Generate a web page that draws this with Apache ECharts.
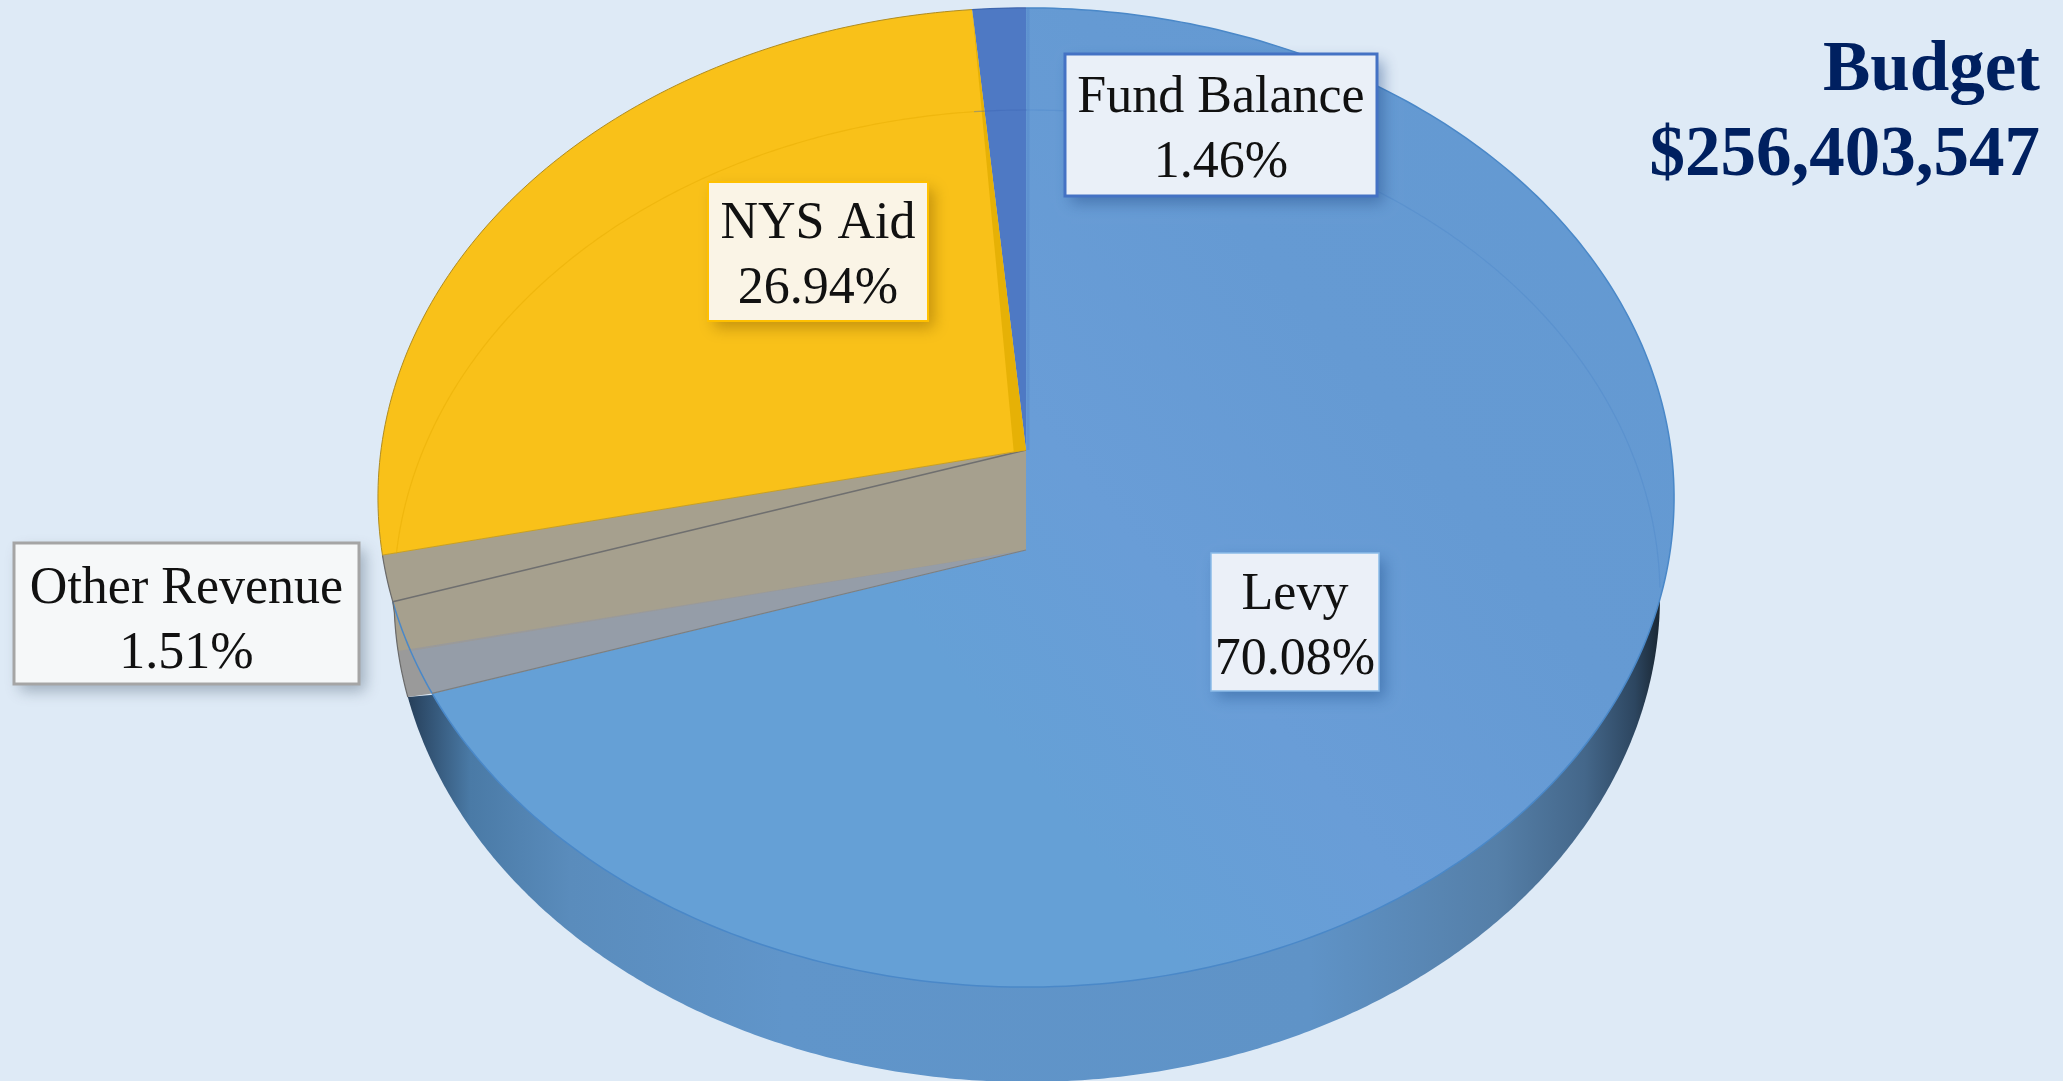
<!DOCTYPE html>
<html>
<head>
<meta charset="utf-8">
<style>html,body{margin:0;padding:0;background:#DEEAF6;overflow:hidden}#c{width:2063px;height:1081px}</style>
<script src="https://cdn.jsdelivr.net/npm/echarts@6/dist/echarts.min.js"></script>
</head>
<body>
<div id="c"></div>
<script>
// ---- data ----
const categories = ['Levy', 'Other Revenue', 'NYS Aid', 'Fund Balance'];
const shares = [70.08, 1.51, 26.94, 1.46];
const titleLines = ['Budget', '$256,403,547'];

// ---- styles / layout (not data) ----
const sliceColors = ['#659FD6', '#A6A08E', '#F9C119', '#4E79C4'];
const labelBoxes = [
  {x0: 1211, y0: 553, x1: 1379, y1: 691, dy: 6, border: '#8ABBE8', lw: 1.5, fill: '#EBF0F8', shadow: 'rgba(30,80,140,0.45)'},
  {x0: 14,   y0: 543, x1: 359,  y1: 684, dy: 8, border: '#A5A5A5', lw: 3,   fill: '#F6F8F9', shadow: 'rgba(60,80,100,0.40)'},
  {x0: 708,  y0: 182, x1: 928,  y1: 321, dy: 5, border: '#FFC000', lw: 2,   fill: '#FAF4E6', shadow: 'rgba(130,90,0,0.45)'},
  {x0: 1065, y0: 54,  x1: 1377, y1: 196, dy: 6, border: '#4472C4', lw: 3,   fill: '#EAF0F8', shadow: 'rgba(30,70,130,0.45)'}
];
const LABEL_FONT = '52px "Liberation Serif", serif';
// perspective disc: apex is the projected centre of the pie
const D = {cx: 1026, ay: 450, A: 645, B: 485, k: 0.097};
// bottom rim ellipse
const R = {cx: 1027, cy: 596, a: 633, b: 486};
const DROP = 100;           // how far the Levy cut face drops below the apex
const LEVY_CUT = 3.03;      // pct before Levy's end where the visible top stops
const TAN_CUT = 1.61;       // pct before Levy's end where the tan band stops

const total = shares.reduce((a, b) => a + b, 0);
const cum = [];
shares.reduce((a, b, i) => { cum[i] = a; return a + b; }, 0);

function disc(pct) {
  const t = pct / 100 * 2 * Math.PI, u = Math.sin(t), v = Math.cos(t), d = 1 + D.k * v;
  return [D.cx + D.A * u / d, D.ay - D.B * v / d];
}
function arc(p0, p1) {
  const n = Math.max(2, Math.ceil(Math.abs(p1 - p0) * 4)), out = [];
  for (let i = 0; i <= n; i++) out.push(disc(p0 + (p1 - p0) * i / n));
  return out;
}
function rim(deg0, deg1) {
  const n = Math.max(2, Math.ceil(Math.abs(deg1 - deg0) * 2)), out = [];
  for (let i = 0; i <= n; i++) {
    const t = (deg0 + (deg1 - deg0) * i / n) * Math.PI / 180;
    out.push([R.cx + R.a * Math.sin(t), R.cy - R.b * Math.cos(t)]);
  }
  return out;
}
const apex = [D.cx, D.ay], lowApex = [D.cx, D.ay + DROP];

function poly(points, style, z2) { return {type: 'polygon', shape: {points}, style, z2, silent: true}; }
function line(points, stroke, lineWidth, z2) {
  return {type: 'polyline', shape: {points}, style: {stroke, lineWidth, fill: null}, z2, silent: true};
}

function renderItem(params, api) {
  const i = params.dataIndex, share = api.value(1);
  const start = cum[i] / total * 100, end = start + share / total * 100;
  const kids = [];
  if (i === 0) {
    // side wall
    kids.push(poly(rim(89, 258), {fill: new echarts.graphic.LinearGradient(0, 0, 1, 0, [
      {offset: 0, color: '#263F5A'}, {offset: 0.05, color: '#4A7AA6'}, {offset: 0.13, color: '#5A8CBC'},
      {offset: 0.3, color: '#6095CA'}, {offset: 0.72, color: '#5F93C7'}, {offset: 0.87, color: '#557FA8'},
      {offset: 0.94, color: '#44678A'}, {offset: 0.98, color: '#2D4660'}, {offset: 1, color: '#1A2733'}
    ])}, 1));
    // top face
    const cut = end - LEVY_CUT;
    kids.push(poly(arc(start, cut).concat([lowApex, apex]), {fill: new echarts.graphic.LinearGradient(1, 0, 0, 1, [
      {offset: 0, color: '#6399D1'}, {offset: 0.3, color: '#659AD3'}, {offset: 0.48, color: '#699DD7'}, {offset: 0.62, color: '#65A0D6'}, {offset: 1, color: '#65A0D6'}
    ])}, 2));
    kids.push(line(arc(start, cut), '#4A88C8', 1.5, 3));
    kids.push(line(rim(0, 89), 'rgba(70,130,200,0.3)', 1.2, 3));
  }
  if (i === 1) {
    const levyEnd = start, cut = levyEnd - LEVY_CUT, tan = levyEnd - TAN_CUT;
    const corner = disc(cut), wedge = rim(268, 258), tanWedge = rim(268, 263.5);
    kids.push(poly(arc(end, start).concat(wedge, [corner, lowApex, apex]), {fill: '#9A9A9A'}, 4));
    kids.push(poly(arc(tan, cut).concat([lowApex]), {fill: '#959DA8'}, 5));
    kids.push(poly(arc(end, start).concat(tanWedge, [lowApex, apex]), {fill: sliceColors[1]}, 6));
    kids.push(line(arc(start, cut), '#4A88C8', 1.5, 7));
    kids.push(line([apex, disc(start)], '#6F6F6F', 1.5, 7));
    kids.push(line([corner, lowApex], '#7C7F80', 1.2, 7));
    kids.push(line(arc(end, start).concat(wedge), '#6A6A6A', 1.2, 7));
  }
  if (i === 2) {
    kids.push(poly(arc(start, end).concat([apex]), {fill: sliceColors[2]}, 8));
    kids.push(line(arc(start, end), '#B08C20', 1, 9));
    kids.push(line([disc(start), apex], '#C9A022', 1, 9));
    // darker inner wall along the Fund Balance side
    const e = disc(end), foot = [apex[0] + (disc(start)[0] - apex[0]) * 0.019, apex[1] + (disc(start)[1] - apex[1]) * 0.019];
    kids.push(poly([e, apex, foot], {fill: '#E6B106'}, 9));
    kids.push(line(rim(-85, -4.8), 'rgba(228,170,0,0.45)', 1.2, 9));
  }
  if (i === 3) {
    kids.push(poly(arc(start, end).concat([apex]), {fill: sliceColors[3]}, 8));
    kids.push(line(arc(start, end), '#3E66AE', 1.2, 9));
    kids.push(line([[D.cx + 2, 8], [D.cx + 2, D.ay]], 'rgba(78,130,200,0.35)', 3, 3));
    kids.push(line(rim(-4.8, 0), 'rgba(60,100,180,0.4)', 1.2, 9));
  }
  const b = labelBoxes[i];
  const rect = {x: b.x0, y: b.y0, width: b.x1 - b.x0, height: b.y1 - b.y0};
  kids.push({type: 'rect', shape: rect,
    style: {fill: b.fill, shadowBlur: 14, shadowOffsetX: 6, shadowOffsetY: 7, shadowColor: b.shadow}, z2: 20, silent: true});
  kids.push({type: 'rect', shape: rect, style: {fill: b.fill, stroke: b.border, lineWidth: b.lw}, z2: 21, silent: true});
  kids.push({type: 'text', silent: true, z2: 22, style: {
    x: (b.x0 + b.x1) / 2, y: (b.y0 + b.y1) / 2 + b.dy,
    text: categories[i] + '\n' + share.toFixed(2) + '%',
    font: LABEL_FONT, fill: '#111', align: 'center', verticalAlign: 'middle', lineHeight: 65
  }});
  return {type: 'group', children: kids};
}

const titleStyle = {fontFamily: '"Liberation Serif", serif', fontWeight: 'bold', fontSize: 71, lineHeight: 85, color: '#002060'};
const chart = echarts.init(document.getElementById('c'), null, {renderer: 'canvas'});
chart.setOption({
  animation: false,
  backgroundColor: '#DEEAF6',
  title: titleLines.map((t, i) => ({text: t, right: 23, top: 29 + 85 * i, padding: 0, textStyle: titleStyle})),
  series: [{
    type: 'custom', coordinateSystem: 'none', renderItem, silent: true, clip: false,
    data: categories.map((c, i) => [c, shares[i]])
  }]
});
</script>
</body>
</html>
